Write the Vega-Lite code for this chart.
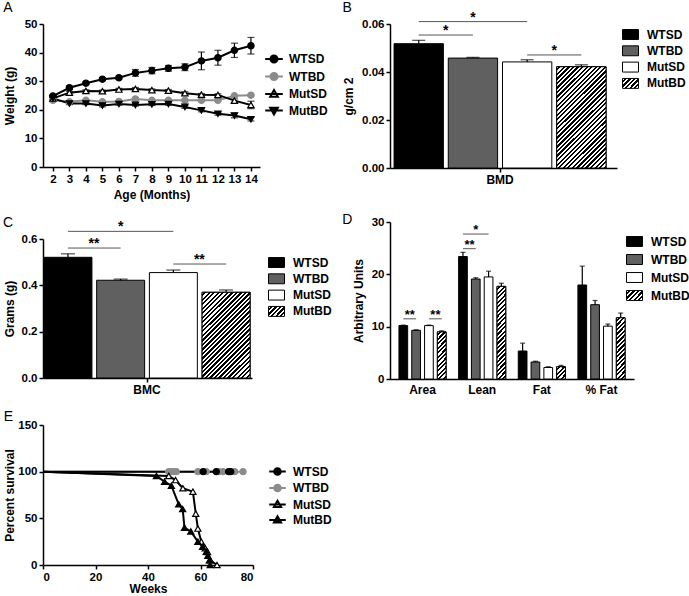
{
"$schema":"https://vega.github.io/schema/vega-lite/v6.json",
"padding":{"left":3,"top":0,"right":0,"bottom":0},
"params":[{"name":"hs","value":[{"offset":0,"color":"#fff"},{"offset":0.0125,"color":"#fff"},{"offset":0.0125,"color":"#000"},{"offset":0.025,"color":"#000"},{"offset":0.025,"color":"#fff"},{"offset":0.0375,"color":"#fff"},{"offset":0.0375,"color":"#000"},{"offset":0.05,"color":"#000"},{"offset":0.05,"color":"#fff"},{"offset":0.0625,"color":"#fff"},{"offset":0.0625,"color":"#000"},{"offset":0.075,"color":"#000"},{"offset":0.075,"color":"#fff"},{"offset":0.0875,"color":"#fff"},{"offset":0.0875,"color":"#000"},{"offset":0.1,"color":"#000"},{"offset":0.1,"color":"#fff"},{"offset":0.1125,"color":"#fff"},{"offset":0.1125,"color":"#000"},{"offset":0.125,"color":"#000"},{"offset":0.125,"color":"#fff"},{"offset":0.1375,"color":"#fff"},{"offset":0.1375,"color":"#000"},{"offset":0.15,"color":"#000"},{"offset":0.15,"color":"#fff"},{"offset":0.1625,"color":"#fff"},{"offset":0.1625,"color":"#000"},{"offset":0.175,"color":"#000"},{"offset":0.175,"color":"#fff"},{"offset":0.1875,"color":"#fff"},{"offset":0.1875,"color":"#000"},{"offset":0.2,"color":"#000"},{"offset":0.2,"color":"#fff"},{"offset":0.2125,"color":"#fff"},{"offset":0.2125,"color":"#000"},{"offset":0.225,"color":"#000"},{"offset":0.225,"color":"#fff"},{"offset":0.2375,"color":"#fff"},{"offset":0.2375,"color":"#000"},{"offset":0.25,"color":"#000"},{"offset":0.25,"color":"#fff"},{"offset":0.2625,"color":"#fff"},{"offset":0.2625,"color":"#000"},{"offset":0.275,"color":"#000"},{"offset":0.275,"color":"#fff"},{"offset":0.2875,"color":"#fff"},{"offset":0.2875,"color":"#000"},{"offset":0.3,"color":"#000"},{"offset":0.3,"color":"#fff"},{"offset":0.3125,"color":"#fff"},{"offset":0.3125,"color":"#000"},{"offset":0.325,"color":"#000"},{"offset":0.325,"color":"#fff"},{"offset":0.3375,"color":"#fff"},{"offset":0.3375,"color":"#000"},{"offset":0.35,"color":"#000"},{"offset":0.35,"color":"#fff"},{"offset":0.3625,"color":"#fff"},{"offset":0.3625,"color":"#000"},{"offset":0.375,"color":"#000"},{"offset":0.375,"color":"#fff"},{"offset":0.3875,"color":"#fff"},{"offset":0.3875,"color":"#000"},{"offset":0.4,"color":"#000"},{"offset":0.4,"color":"#fff"},{"offset":0.4125,"color":"#fff"},{"offset":0.4125,"color":"#000"},{"offset":0.425,"color":"#000"},{"offset":0.425,"color":"#fff"},{"offset":0.4375,"color":"#fff"},{"offset":0.4375,"color":"#000"},{"offset":0.45,"color":"#000"},{"offset":0.45,"color":"#fff"},{"offset":0.4625,"color":"#fff"},{"offset":0.4625,"color":"#000"},{"offset":0.475,"color":"#000"},{"offset":0.475,"color":"#fff"},{"offset":0.4875,"color":"#fff"},{"offset":0.4875,"color":"#000"},{"offset":0.5,"color":"#000"},{"offset":0.5,"color":"#fff"},{"offset":0.5125,"color":"#fff"},{"offset":0.5125,"color":"#000"},{"offset":0.525,"color":"#000"},{"offset":0.525,"color":"#fff"},{"offset":0.5375,"color":"#fff"},{"offset":0.5375,"color":"#000"},{"offset":0.55,"color":"#000"},{"offset":0.55,"color":"#fff"},{"offset":0.5625,"color":"#fff"},{"offset":0.5625,"color":"#000"},{"offset":0.575,"color":"#000"},{"offset":0.575,"color":"#fff"},{"offset":0.5875,"color":"#fff"},{"offset":0.5875,"color":"#000"},{"offset":0.6,"color":"#000"},{"offset":0.6,"color":"#fff"},{"offset":0.6125,"color":"#fff"},{"offset":0.6125,"color":"#000"},{"offset":0.625,"color":"#000"},{"offset":0.625,"color":"#fff"},{"offset":0.6375,"color":"#fff"},{"offset":0.6375,"color":"#000"},{"offset":0.65,"color":"#000"},{"offset":0.65,"color":"#fff"},{"offset":0.6625,"color":"#fff"},{"offset":0.6625,"color":"#000"},{"offset":0.675,"color":"#000"},{"offset":0.675,"color":"#fff"},{"offset":0.6875,"color":"#fff"},{"offset":0.6875,"color":"#000"},{"offset":0.7,"color":"#000"},{"offset":0.7,"color":"#fff"},{"offset":0.7125,"color":"#fff"},{"offset":0.7125,"color":"#000"},{"offset":0.725,"color":"#000"},{"offset":0.725,"color":"#fff"},{"offset":0.7375,"color":"#fff"},{"offset":0.7375,"color":"#000"},{"offset":0.75,"color":"#000"},{"offset":0.75,"color":"#fff"},{"offset":0.7625,"color":"#fff"},{"offset":0.7625,"color":"#000"},{"offset":0.775,"color":"#000"},{"offset":0.775,"color":"#fff"},{"offset":0.7875,"color":"#fff"},{"offset":0.7875,"color":"#000"},{"offset":0.8,"color":"#000"},{"offset":0.8,"color":"#fff"},{"offset":0.8125,"color":"#fff"},{"offset":0.8125,"color":"#000"},{"offset":0.825,"color":"#000"},{"offset":0.825,"color":"#fff"},{"offset":0.8375,"color":"#fff"},{"offset":0.8375,"color":"#000"},{"offset":0.85,"color":"#000"},{"offset":0.85,"color":"#fff"},{"offset":0.8625,"color":"#fff"},{"offset":0.8625,"color":"#000"},{"offset":0.875,"color":"#000"},{"offset":0.875,"color":"#fff"},{"offset":0.8875,"color":"#fff"},{"offset":0.8875,"color":"#000"},{"offset":0.9,"color":"#000"},{"offset":0.9,"color":"#fff"},{"offset":0.9125,"color":"#fff"},{"offset":0.9125,"color":"#000"},{"offset":0.925,"color":"#000"},{"offset":0.925,"color":"#fff"},{"offset":0.9375,"color":"#fff"},{"offset":0.9375,"color":"#000"},{"offset":0.95,"color":"#000"},{"offset":0.95,"color":"#fff"},{"offset":0.9625,"color":"#fff"},{"offset":0.9625,"color":"#000"},{"offset":0.975,"color":"#000"},{"offset":0.975,"color":"#fff"},{"offset":0.9875,"color":"#fff"},{"offset":0.9875,"color":"#000"},{"offset":1,"color":"#000"}]}],
"datasets":{
"weight":[
{"group":"WTSD","age":2,"mean":24.8,"lo":24.2,"hi":25.4},{"group":"WTSD","age":3,"mean":27.7,"lo":27.1,"hi":28.3},{"group":"WTSD","age":4,"mean":29.3,"lo":28.8,"hi":29.8},{"group":"WTSD","age":5,"mean":30.7,"lo":30.2,"hi":31.2},{"group":"WTSD","age":6,"mean":31.2,"lo":30.7,"hi":31.7},{"group":"WTSD","age":7,"mean":32.9,"lo":31.7,"hi":34.1},{"group":"WTSD","age":8,"mean":33.7,"lo":32.6,"hi":34.8},{"group":"WTSD","age":9,"mean":34.5,"lo":33.5,"hi":35.5},{"group":"WTSD","age":10,"mean":34.9,"lo":33.7,"hi":36.1},{"group":"WTSD","age":11,"mean":37.1,"lo":34.0,"hi":40.2},{"group":"WTSD","age":12,"mean":38.2,"lo":35.6,"hi":40.8},{"group":"WTSD","age":13,"mean":40.8,"lo":38.3,"hi":43.3},{"group":"WTSD","age":14,"mean":42.4,"lo":39.5,"hi":45.3},
{"group":"WTBD","age":2,"mean":23.3,"lo":23.0,"hi":23.6},{"group":"WTBD","age":3,"mean":22.8,"lo":22.5,"hi":23.1},{"group":"WTBD","age":4,"mean":23.3,"lo":23.0,"hi":23.6},{"group":"WTBD","age":5,"mean":22.8,"lo":22.5,"hi":23.1},{"group":"WTBD","age":6,"mean":22.9,"lo":22.6,"hi":23.2},{"group":"WTBD","age":7,"mean":23.8,"lo":23.4,"hi":24.2},{"group":"WTBD","age":8,"mean":23.3,"lo":23.0,"hi":23.6},{"group":"WTBD","age":9,"mean":23.3,"lo":23.0,"hi":23.6},{"group":"WTBD","age":10,"mean":23.3,"lo":23.0,"hi":23.6},{"group":"WTBD","age":11,"mean":23.3,"lo":23.0,"hi":23.6},{"group":"WTBD","age":12,"mean":23.3,"lo":23.0,"hi":23.6},{"group":"WTBD","age":13,"mean":24.9,"lo":24.6,"hi":25.2},{"group":"WTBD","age":14,"mean":25.1,"lo":24.8,"hi":25.4},
{"group":"MutSD","age":2,"mean":24.0,"lo":23.6,"hi":24.4},{"group":"MutSD","age":3,"mean":26.0,"lo":25.6,"hi":26.4},{"group":"MutSD","age":4,"mean":26.6,"lo":26.2,"hi":27.0},{"group":"MutSD","age":5,"mean":26.5,"lo":26.1,"hi":26.9},{"group":"MutSD","age":6,"mean":27.1,"lo":26.7,"hi":27.5},{"group":"MutSD","age":7,"mean":27.3,"lo":26.8,"hi":27.8},{"group":"MutSD","age":8,"mean":26.9,"lo":26.5,"hi":27.3},{"group":"MutSD","age":9,"mean":26.7,"lo":26.3,"hi":27.1},{"group":"MutSD","age":10,"mean":25.8,"lo":25.3,"hi":26.3},{"group":"MutSD","age":11,"mean":25.3,"lo":24.9,"hi":25.7},{"group":"MutSD","age":12,"mean":25.2,"lo":24.8,"hi":25.6},{"group":"MutSD","age":13,"mean":23.2,"lo":22.6,"hi":23.8},{"group":"MutSD","age":14,"mean":21.7,"lo":20.4,"hi":23.0},
{"group":"MutBD","age":2,"mean":24.0,"lo":23.6,"hi":24.4},{"group":"MutBD","age":3,"mean":22.2,"lo":21.8,"hi":22.6},{"group":"MutBD","age":4,"mean":22.2,"lo":21.8,"hi":22.6},{"group":"MutBD","age":5,"mean":21.5,"lo":21.0,"hi":22.0},{"group":"MutBD","age":6,"mean":22.0,"lo":21.6,"hi":22.4},{"group":"MutBD","age":7,"mean":21.7,"lo":21.3,"hi":22.1},{"group":"MutBD","age":8,"mean":21.9,"lo":21.5,"hi":22.3},{"group":"MutBD","age":9,"mean":22.0,"lo":21.6,"hi":22.4},{"group":"MutBD","age":10,"mean":21.0,"lo":20.5,"hi":21.5},{"group":"MutBD","age":11,"mean":19.8,"lo":19.3,"hi":20.3},{"group":"MutBD","age":12,"mean":18.6,"lo":18.1,"hi":19.1},{"group":"MutBD","age":13,"mean":18.0,"lo":17.2,"hi":18.8},{"group":"MutBD","age":14,"mean":16.7,"lo":16.1,"hi":17.3}],
"bmd":[{"measure":"BMD","group":"WTSD","mean":0.0518,"err":0.0014},{"measure":"BMD","group":"WTBD","mean":0.0458,"err":0.0003},{"measure":"BMD","group":"MutSD","mean":0.0442,"err":0.0009},{"measure":"BMD","group":"MutBD","mean":0.0422,"err":0.0008}],
"sigB":[{"measure":"BMD","pair":"p1","group":"WTSD","level":0.061},{"measure":"BMD","pair":"p1","group":"MutSD","level":0.061},{"measure":"BMD","pair":"p2","group":"WTSD","level":0.0554},{"measure":"BMD","pair":"p2","group":"WTBD","level":0.0554},{"measure":"BMD","pair":"p3","group":"MutSD","level":0.0471},{"measure":"BMD","pair":"p3","group":"MutBD","level":0.0471}],
"starB":[{"measure":"BMD","group":"WTBD","level":0.061,"label":"*","shift":0},{"measure":"BMD","group":"WTSD","level":0.0554,"label":"*","shift":1},{"measure":"BMD","group":"MutSD","level":0.0471,"label":"*","shift":1}],
"bmc":[{"measure":"BMC","group":"WTSD","mean":0.521,"err":0.015},{"measure":"BMC","group":"WTBD","mean":0.422,"err":0.005},{"measure":"BMC","group":"MutSD","mean":0.455,"err":0.011},{"measure":"BMC","group":"MutBD","mean":0.37,"err":0.01}],
"sigC":[{"measure":"BMC","pair":"p1","group":"WTSD","level":0.633},{"measure":"BMC","pair":"p1","group":"MutSD","level":0.633},{"measure":"BMC","pair":"p2","group":"WTSD","level":0.561},{"measure":"BMC","pair":"p2","group":"WTBD","level":0.561},{"measure":"BMC","pair":"p3","group":"MutSD","level":0.492},{"measure":"BMC","pair":"p3","group":"MutBD","level":0.492}],
"starC":[{"measure":"BMC","group":"WTBD","level":0.633,"label":"*","shift":0},{"measure":"BMC","group":"WTSD","level":0.561,"label":"**","shift":1},{"measure":"BMC","group":"MutSD","level":0.492,"label":"**","shift":1}],
"body":[{"measure":"Area","group":"WTSD","mean":10.2,"err":0.1},{"measure":"Area","group":"WTBD","mean":9.3,"err":0.1},{"measure":"Area","group":"MutSD","mean":10.2,"err":0.1},{"measure":"Area","group":"MutBD","mean":9.0,"err":0.2},
{"measure":"Lean","group":"WTSD","mean":23.4,"err":0.8},{"measure":"Lean","group":"WTBD","mean":19.1,"err":0.25},{"measure":"Lean","group":"MutSD","mean":19.5,"err":1.1},{"measure":"Lean","group":"MutBD","mean":17.7,"err":0.6},
{"measure":"Fat","group":"WTSD","mean":5.35,"err":1.5},{"measure":"Fat","group":"WTBD","mean":3.25,"err":0.15},{"measure":"Fat","group":"MutSD","mean":2.2,"err":0.15},{"measure":"Fat","group":"MutBD","mean":2.35,"err":0.25},
{"measure":"% Fat","group":"WTSD","mean":17.96,"err":3.6},{"measure":"% Fat","group":"WTBD","mean":14.2,"err":0.8},{"measure":"% Fat","group":"MutSD","mean":10.1,"err":0.4},{"measure":"% Fat","group":"MutBD","mean":11.7,"err":0.9}],
"sigD":[{"measure":"Area","pair":"a1","group":"WTSD","level":11.5},{"measure":"Area","pair":"a1","group":"WTBD","level":11.5},{"measure":"Area","pair":"a2","group":"MutSD","level":11.5},{"measure":"Area","pair":"a2","group":"MutBD","level":11.5},{"measure":"Lean","pair":"l1","group":"WTSD","level":24.9},{"measure":"Lean","pair":"l1","group":"WTBD","level":24.9},{"measure":"Lean","pair":"l2","group":"WTSD","level":27.7},{"measure":"Lean","pair":"l2","group":"MutSD","level":27.7}],
"starD":[{"measure":"Area","group":"WTSD","level":11.5,"label":"**","shift":1},{"measure":"Area","group":"MutSD","level":11.5,"label":"**","shift":1},{"measure":"Lean","group":"WTSD","level":24.9,"label":"**","shift":1},{"measure":"Lean","group":"WTBD","level":27.7,"label":"*","shift":0}],
"surv":[
{"group":"WTBD","week":0,"pct":100},{"group":"WTBD","week":47.9,"pct":100},{"group":"WTBD","week":48.9,"pct":100},{"group":"WTBD","week":49.8,"pct":100},{"group":"WTBD","week":50.8,"pct":100},{"group":"WTBD","week":59,"pct":100},{"group":"WTBD","week":62.2,"pct":100},{"group":"WTBD","week":67,"pct":100},{"group":"WTBD","week":68.6,"pct":100},{"group":"WTBD","week":73,"pct":100},{"group":"WTBD","week":76.2,"pct":100},
{"group":"WTSD","week":0,"pct":100},{"group":"WTSD","week":61,"pct":100},{"group":"WTSD","week":66,"pct":100},{"group":"WTSD","week":70.7,"pct":100},{"group":"WTSD","week":71.5,"pct":100},
{"group":"MutSD","week":0,"pct":100},{"group":"MutSD","week":47.9,"pct":95.4},{"group":"MutSD","week":50.5,"pct":91},{"group":"MutSD","week":53.3,"pct":82.2},{"group":"MutSD","week":57.1,"pct":78.6},{"group":"MutSD","week":58.2,"pct":55},{"group":"MutSD","week":59,"pct":39},{"group":"MutSD","week":60.3,"pct":25},{"group":"MutSD","week":61.8,"pct":18},{"group":"MutSD","week":62.7,"pct":14},{"group":"MutSD","week":63.8,"pct":5},{"group":"MutSD","week":66.3,"pct":0},
{"group":"MutBD","week":0,"pct":100},{"group":"MutBD","week":43.2,"pct":95.4},{"group":"MutBD","week":46.3,"pct":89.3},{"group":"MutBD","week":48.9,"pct":85},{"group":"MutBD","week":51.7,"pct":65},{"group":"MutBD","week":53.2,"pct":60},{"group":"MutBD","week":53.9,"pct":40},{"group":"MutBD","week":56.3,"pct":36},{"group":"MutBD","week":59,"pct":25},{"group":"MutBD","week":60.8,"pct":19.5},{"group":"MutBD","week":62.2,"pct":14.3},{"group":"MutBD","week":62.8,"pct":10},{"group":"MutBD","week":63.4,"pct":5},{"group":"MutBD","week":63.7,"pct":0}]
},
"resolve":{"scale":{"xOffset":"independent","color":"independent","fill":"independent","stroke":"independent","shape":"independent"},"legend":{"color":"independent","fill":"independent","stroke":"independent","shape":"independent"}},
"spacing":10,
"hconcat":[
{"spacing":15,
 "resolve":{"scale":{"xOffset":"independent","color":"independent","fill":"independent","stroke":"independent","shape":"independent"},"legend":{"color":"independent","fill":"independent","stroke":"independent","shape":"independent"}},
 "vconcat":[
 {"title":{"text":"A","offset":3},
  "width":217,"height":143,
  "data":{"name":"weight"},
  "resolve":{"scale":{"shape":"independent","fill":"independent","stroke":"independent"},"legend":{"shape":"independent","fill":"independent","stroke":"independent"}},
  "layer":[
   {"mark":{"type":"line","strokeWidth":2},
    "encoding":{"x":{"field":"age","type":"quantitative","title":"Age (Months)","scale":{"domain":[1.4,14.55],"nice":false,"zero":false},"axis":{"values":[2,3,4,5,6,7,8,9,10,11,12,13,14],"tickCount":13,"labelOverlap":false,"titlePadding":5}},
     "y":{"field":"mean","type":"quantitative","title":"Weight (g)","scale":{"domain":[0,50],"nice":false},"axis":{"values":[0,10,20,30,40,50],"tickCount":6,"labelOverlap":false,"titlePadding":8}},
     "color":{"field":"group","type":"nominal","scale":{"domain":["WTSD","WTBD","MutSD","MutBD"],"range":["black","#8c8c8c","black","black"]},"legend":null}}},
   {"mark":{"type":"rule","strokeWidth":1.2},
    "encoding":{"x":{"field":"age","type":"quantitative","title":"Age (Months)"},
     "y":{"field":"lo","type":"quantitative","title":"Weight (g)"},"y2":{"field":"hi"},
     "color":{"field":"group","type":"nominal","legend":null}}},
   {"mark":{"type":"tick","orient":"horizontal","size":7,"thickness":1.2},
    "encoding":{"x":{"field":"age","type":"quantitative","title":"Age (Months)"},
     "y":{"field":"lo","type":"quantitative","title":"Weight (g)"},
     "color":{"field":"group","type":"nominal","legend":null}}},
   {"mark":{"type":"tick","orient":"horizontal","size":7,"thickness":1.2},
    "encoding":{"x":{"field":"age","type":"quantitative","title":"Age (Months)"},
     "y":{"field":"hi","type":"quantitative","title":"Weight (g)"},
     "color":{"field":"group","type":"nominal","legend":null}}},
   {"mark":{"type":"point","filled":true,"size":40,"strokeWidth":1.2,"opacity":1},
    "encoding":{"x":{"field":"age","type":"quantitative","title":"Age (Months)"},"y":{"field":"mean","type":"quantitative","title":"Weight (g)"},
     "shape":{"field":"group","type":"nominal","scale":{"domain":["WTSD","WTBD","MutSD","MutBD"],"range":["circle","circle","triangle-up","triangle-down"]},"legend":null},
     "fill":{"field":"group","type":"nominal","scale":{"domain":["WTSD","WTBD","MutSD","MutBD"],"range":["black","#8c8c8c","white","black"]},"legend":null},
     "stroke":{"field":"group","type":"nominal","scale":{"domain":["WTSD","WTBD","MutSD","MutBD"],"range":["black","#8c8c8c","black","black"]},"legend":null}}},
   {"transform":[{"filter":"false"}],"mark":{"type":"point","filled":true,"opacity":1},
    "encoding":{"x":{"field":"age","type":"quantitative","title":"Age (Months)"},"y":{"field":"mean","type":"quantitative","title":"Weight (g)"},
     "shape":{"field":"group","type":"nominal","scale":{"domain":["WTSD","WTBD","MutSD","MutBD"],"range":["M-1.1,0H1.1M-0.44,0A0.44,0.44,0,1,0,0.44,0A0.44,0.44,0,1,0,-0.44,0Z","M-1.1,0H1.1M-0.44,0A0.44,0.44,0,1,0,0.44,0A0.44,0.44,0,1,0,-0.44,0Z","M-1.1,0H1.1M0,-0.5L0.48,0.33L-0.48,0.33Z","M-1.1,0H1.1M0,0.5L0.48,-0.33L-0.48,-0.33Z"]},
      "legend":{"orient":"none","legendX":222,"legendY":26,"title":null,"symbolSize":256,"rowPadding":0.5,"labelOffset":6,"symbolStrokeWidth":2,"symbolOpacity":1}},
     "fill":{"field":"group","type":"nominal","scale":{"domain":["WTSD","WTBD","MutSD","MutBD"],"range":["black","#8c8c8c","white","black"]},
      "legend":{"orient":"none","legendX":222,"legendY":26,"title":null,"symbolSize":256,"rowPadding":0.5,"labelOffset":6,"symbolStrokeWidth":2,"symbolOpacity":1}},
     "stroke":{"field":"group","type":"nominal","scale":{"domain":["WTSD","WTBD","MutSD","MutBD"],"range":["black","#8c8c8c","black","black"]},
      "legend":{"orient":"none","legendX":222,"legendY":26,"title":null,"symbolSize":256,"rowPadding":0.5,"labelOffset":6,"symbolStrokeWidth":2,"symbolOpacity":1}}}}
  ]},
 {"title":{"text":"C","offset":-10},
  "width":209,"height":139,
  "layer":[
   {"data":{"name":"bmc"},"mark":{"type":"errorbar","ticks":{"size":14},"thickness":1.2,"color":"black"},
    "encoding":{"x":{"field":"measure","type":"nominal","scale":{"paddingOuter":0.007,"paddingInner":0,"align":0.33},"axis":{"title":null,"labelAngle":0,"labelFontSize":12}},
     "xOffset":{"field":"group","type":"nominal","scale":{"domain":["WTSD","WTBD","MutSD","MutBD"],"paddingInner":0.09,"paddingOuter":0}},
     "y":{"field":"mean","type":"quantitative","scale":{"domain":[0,0.6],"nice":false},"axis":{"values":[0,0.2,0.4,0.6],"format":".1f","title":"Grams (g)","titlePadding":5}},
     "yError":{"field":"err"}}},
   {"data":{"name":"bmc"},"mark":{"type":"bar","stroke":"black","strokeWidth":1},
    "encoding":{"x":{"field":"measure","type":"nominal"},"xOffset":{"field":"group","type":"nominal"},"y":{"field":"mean","type":"quantitative"},
     "fill":{"field":"group","type":"nominal","scale":{"domain":["WTSD","WTBD","MutSD","MutBD"],"range":["black","#606060","white",{"expr":"{gradient:'linear',x1:0,y1:0,x2:8.3,y2:5,stops:hs}"}]},
      "legend":{"orient":"none","legendX":225,"legendY":15,"title":null,"symbolSize":256,"symbolType":"M-1,-0.62H1V0.62H-1Z","symbolStrokeColor":"black","symbolStrokeWidth":1,"rowPadding":0.3,"labelOffset":8}}}},
   {"data":{"name":"bmc"},"transform":[{"filter":"datum.group==='MutBD'"}],
    "mark":{"type":"bar","stroke":"black","strokeWidth":1,"fill":{"expr":"{gradient:'linear',x1:0,y1:0,x2:0.896,y2:1.605,stops:hs}"}},
    "encoding":{"x":{"field":"measure","type":"nominal"},"xOffset":{"field":"group","type":"nominal"},"y":{"field":"mean","type":"quantitative"}}},
   {"data":{"name":"sigC"},"mark":{"type":"line","color":"#555","strokeWidth":1},
    "encoding":{"x":{"field":"measure","type":"nominal"},"xOffset":{"field":"group","type":"nominal"},"y":{"field":"level","type":"quantitative"},"detail":{"field":"pair"}}},
   {"data":{"name":"starC"},"transform":[{"filter":"datum.shift==0"}],"mark":{"type":"text","fontSize":14,"fontWeight":"bold","baseline":"alphabetic","color":"black"},
    "encoding":{"x":{"field":"measure","type":"nominal"},"xOffset":{"field":"group","type":"nominal"},"y":{"field":"level","type":"quantitative"},"text":{"field":"label"}}},
   {"data":{"name":"starC"},"transform":[{"filter":"datum.shift==1"}],"mark":{"type":"text","fontSize":14,"fontWeight":"bold","baseline":"alphabetic","color":"black","dx":26},
    "encoding":{"x":{"field":"measure","type":"nominal"},"xOffset":{"field":"group","type":"nominal"},"y":{"field":"level","type":"quantitative"},"text":{"field":"label"}}}
  ]},
 {"title":{"text":"E","offset":-5},
  "width":210,"height":140,
  "data":{"name":"surv"},
  "resolve":{"scale":{"shape":"independent","fill":"independent","stroke":"independent"},"legend":{"shape":"independent","fill":"independent","stroke":"independent"}},
  "layer":[
   {"mark":{"type":"line","strokeWidth":2},
    "encoding":{"x":{"field":"week","type":"quantitative","scale":{"domain":[0,80],"nice":false},"axis":{"values":[0,20,40,60,80],"title":"Weeks","titlePadding":1}},
     "y":{"field":"pct","type":"quantitative","scale":{"domain":[0,150],"nice":false},"axis":{"values":[0,50,100,150],"title":"Percent survival","titlePadding":1}},
     "color":{"field":"group","type":"nominal","scale":{"domain":["WTSD","WTBD","MutSD","MutBD"],"range":["black","#8c8c8c","black","black"]},"legend":null}}},
   {"transform":[{"filter":"datum.week>0"}],"mark":{"type":"point","filled":true,"size":38,"strokeWidth":1.2,"opacity":1},
    "encoding":{"x":{"field":"week","type":"quantitative"},"y":{"field":"pct","type":"quantitative"},
     "shape":{"field":"group","type":"nominal","scale":{"domain":["WTSD","WTBD","MutSD","MutBD"],"range":["circle","circle","triangle-up","triangle-up"]},"legend":null},
     "fill":{"field":"group","type":"nominal","scale":{"domain":["WTSD","WTBD","MutSD","MutBD"],"range":["black","#8c8c8c","white","black"]},"legend":null},
     "stroke":{"field":"group","type":"nominal","scale":{"domain":["WTSD","WTBD","MutSD","MutBD"],"range":["black","#8c8c8c","black","black"]},"legend":null}}},
   {"transform":[{"filter":"false"}],"mark":{"type":"point","filled":true,"opacity":1},
    "encoding":{"x":{"field":"week","type":"quantitative"},"y":{"field":"pct","type":"quantitative"},
     "shape":{"field":"group","type":"nominal","scale":{"domain":["WTSD","WTBD","MutSD","MutBD"],"range":["M-1.1,0H1.1M-0.44,0A0.44,0.44,0,1,0,0.44,0A0.44,0.44,0,1,0,-0.44,0Z","M-1.1,0H1.1M-0.44,0A0.44,0.44,0,1,0,0.44,0A0.44,0.44,0,1,0,-0.44,0Z","M-1.1,0H1.1M0,-0.5L0.48,0.33L-0.48,0.33Z","M-1.1,0H1.1M0,-0.5L0.48,0.33L-0.48,0.33Z"]},
      "legend":{"orient":"none","legendX":226,"legendY":38,"title":null,"symbolSize":225,"rowPadding":0.5,"labelOffset":7,"symbolStrokeWidth":2,"symbolOpacity":1}},
     "fill":{"field":"group","type":"nominal","scale":{"domain":["WTSD","WTBD","MutSD","MutBD"],"range":["black","#8c8c8c","white","black"]},
      "legend":{"orient":"none","legendX":226,"legendY":38,"title":null,"symbolSize":225,"rowPadding":0.5,"labelOffset":7,"symbolStrokeWidth":2,"symbolOpacity":1}},
     "stroke":{"field":"group","type":"nominal","scale":{"domain":["WTSD","WTBD","MutSD","MutBD"],"range":["black","#8c8c8c","black","black"]},
      "legend":{"orient":"none","legendX":226,"legendY":38,"title":null,"symbolSize":225,"rowPadding":0.5,"labelOffset":7,"symbolStrokeWidth":2,"symbolOpacity":1}}}}
  ]}
 ]},
{"spacing":28,
 "resolve":{"scale":{"xOffset":"independent","color":"independent","fill":"independent","stroke":"independent","shape":"independent"},"legend":{"color":"independent","fill":"independent","stroke":"independent","shape":"independent"}},
 "vconcat":[
 {"title":{"text":"B","offset":-4},
  "width":227,"height":144,
  "layer":[
   {"data":{"name":"bmd"},"mark":{"type":"errorbar","ticks":{"size":13},"thickness":1.2,"color":"black"},
    "encoding":{"x":{"field":"measure","type":"nominal","scale":{"paddingOuter":0.0354,"paddingInner":0,"align":0.27},"axis":{"title":null,"labelAngle":0,"labelFontSize":12}},
     "xOffset":{"field":"group","type":"nominal","scale":{"domain":["WTSD","WTBD","MutSD","MutBD"],"paddingInner":0.09,"paddingOuter":0}},
     "y":{"field":"mean","type":"quantitative","scale":{"domain":[0,0.06],"nice":false},"axis":{"values":[0,0.02,0.04,0.06],"format":".2f","title":"g/cm 2","titlePadding":6}},
     "yError":{"field":"err"}}},
   {"data":{"name":"bmd"},"mark":{"type":"bar","stroke":"black","strokeWidth":1},
    "encoding":{"x":{"field":"measure","type":"nominal"},"xOffset":{"field":"group","type":"nominal"},"y":{"field":"mean","type":"quantitative"},
     "fill":{"field":"group","type":"nominal","scale":{"domain":["WTSD","WTBD","MutSD","MutBD"],"range":["black","#606060","white",{"expr":"{gradient:'linear',x1:0,y1:0,x2:8.3,y2:5,stops:hs}"}]},
      "legend":{"orient":"none","legendX":232,"legendY":2,"title":null,"symbolSize":256,"symbolType":"M-1,-0.62H1V0.62H-1Z","symbolStrokeColor":"black","symbolStrokeWidth":1,"rowPadding":0.3,"labelOffset":8}}}},
   {"data":{"name":"bmd"},"transform":[{"filter":"datum.group==='MutBD'"}],
    "mark":{"type":"bar","stroke":"black","strokeWidth":1,"fill":{"expr":"{gradient:'linear',x1:0,y1:0,x2:0.704,y2:1.451,stops:hs}"}},
    "encoding":{"x":{"field":"measure","type":"nominal"},"xOffset":{"field":"group","type":"nominal"},"y":{"field":"mean","type":"quantitative"}}},
   {"data":{"name":"sigB"},"mark":{"type":"line","color":"#555","strokeWidth":1},
    "encoding":{"x":{"field":"measure","type":"nominal"},"xOffset":{"field":"group","type":"nominal"},"y":{"field":"level","type":"quantitative"},"detail":{"field":"pair"}}},
   {"data":{"name":"starB"},"transform":[{"filter":"datum.shift==0"}],"mark":{"type":"text","fontSize":14,"fontWeight":"bold","baseline":"alphabetic","color":"black"},
    "encoding":{"x":{"field":"measure","type":"nominal"},"xOffset":{"field":"group","type":"nominal"},"y":{"field":"level","type":"quantitative"},"text":{"field":"label"}}},
   {"data":{"name":"starB"},"transform":[{"filter":"datum.shift==1"}],"mark":{"type":"text","fontSize":14,"fontWeight":"bold","baseline":"alphabetic","color":"black","dx":27},
    "encoding":{"x":{"field":"measure","type":"nominal"},"xOffset":{"field":"group","type":"nominal"},"y":{"field":"level","type":"quantitative"},"text":{"field":"label"}}}
  ]},
 {"title":{"text":"D","offset":-11,"dx":-10},
  "width":244,"height":157,
  "layer":[
   {"data":{"name":"body"},"mark":{"type":"errorbar","ticks":{"size":5},"thickness":1.2,"color":"black"},
    "encoding":{"x":{"field":"measure","type":"nominal","scale":{"domain":["Area","Lean","Fat","% Fat"],"paddingOuter":0.15,"paddingInner":0.21},"axis":{"title":null,"labelAngle":0,"labelFontSize":12,"ticks":false,"labelPadding":5}},
     "xOffset":{"field":"group","type":"nominal","scale":{"domain":["WTSD","WTBD","MutSD","MutBD"],"paddingInner":0.32,"paddingOuter":0}},
     "y":{"field":"mean","type":"quantitative","scale":{"domain":[0,30],"nice":false},"axis":{"values":[0,10,20,30],"title":"Arbitrary Units","titlePadding":6}},
     "yError":{"field":"err"}}},
   {"data":{"name":"body"},"mark":{"type":"bar","stroke":"black","strokeWidth":1},
    "encoding":{"x":{"field":"measure","type":"nominal"},"xOffset":{"field":"group","type":"nominal"},"y":{"field":"mean","type":"quantitative"},
     "fill":{"field":"group","type":"nominal","scale":{"domain":["WTSD","WTBD","MutSD","MutBD"],"range":["black","#606060","white",{"expr":"{gradient:'linear',x1:0,y1:0,x2:8.3,y2:5,stops:hs}"}]},
      "legend":{"orient":"none","legendX":236,"legendY":11,"title":null,"symbolSize":256,"symbolType":"M-1,-0.62H1V0.62H-1Z","symbolStrokeColor":"black","symbolStrokeWidth":1,"rowPadding":2,"labelOffset":8}}}},
   {"data":{"name":"body"},"transform":[{"filter":"datum.group==='MutBD'"}],
    "mark":{"type":"bar","stroke":"black","strokeWidth":1,"fill":{"expr":"{gradient:'linear',x1:0,y1:0,x2:181*9/(81+pow(datum.mean*157/30,2)),y2:181*(datum.mean*157/30)/(81+pow(datum.mean*157/30,2)),stops:hs}"}},
    "encoding":{"x":{"field":"measure","type":"nominal"},"xOffset":{"field":"group","type":"nominal"},"y":{"field":"mean","type":"quantitative"}}},
   {"data":{"name":"sigD"},"mark":{"type":"line","color":"#555","strokeWidth":1},
    "encoding":{"x":{"field":"measure","type":"nominal"},"xOffset":{"field":"group","type":"nominal"},"y":{"field":"level","type":"quantitative"},"detail":{"field":"pair"}}},
   {"data":{"name":"starD"},"transform":[{"filter":"datum.shift==0"}],"mark":{"type":"text","fontSize":13,"fontWeight":"bold","baseline":"alphabetic","color":"black"},
    "encoding":{"x":{"field":"measure","type":"nominal"},"xOffset":{"field":"group","type":"nominal"},"y":{"field":"level","type":"quantitative"},"text":{"field":"label"}}},
   {"data":{"name":"starD"},"transform":[{"filter":"datum.shift==1"}],"mark":{"type":"text","fontSize":13,"fontWeight":"bold","baseline":"alphabetic","color":"black","dx":6.5},
    "encoding":{"x":{"field":"measure","type":"nominal"},"xOffset":{"field":"group","type":"nominal"},"y":{"field":"level","type":"quantitative"},"text":{"field":"label"}}}
  ]}
 ]}
],
"config":{
 "font":"Liberation Sans",
 "view":{"stroke":null},
 "axis":{"domainColor":"black","domainWidth":1.5,"tickColor":"black","tickWidth":1.5,"tickSize":4,"labelFont":"Liberation Sans","labelFontSize":11.5,"labelFontWeight":"bold","labelColor":"black","titleFont":"Liberation Sans","titleFontSize":12,"titleFontWeight":"bold","titleColor":"black","grid":false,"labelPadding":2,"labelOverlap":false},
 "legend":{"labelFont":"Liberation Sans","labelFontSize":12,"labelFontWeight":"bold","labelColor":"black","padding":0},
 "title":{"font":"Liberation Sans","fontWeight":"normal","fontSize":14,"color":"black","anchor":"start","frame":"bounds"},
 "text":{"font":"Liberation Sans"}
}
}
